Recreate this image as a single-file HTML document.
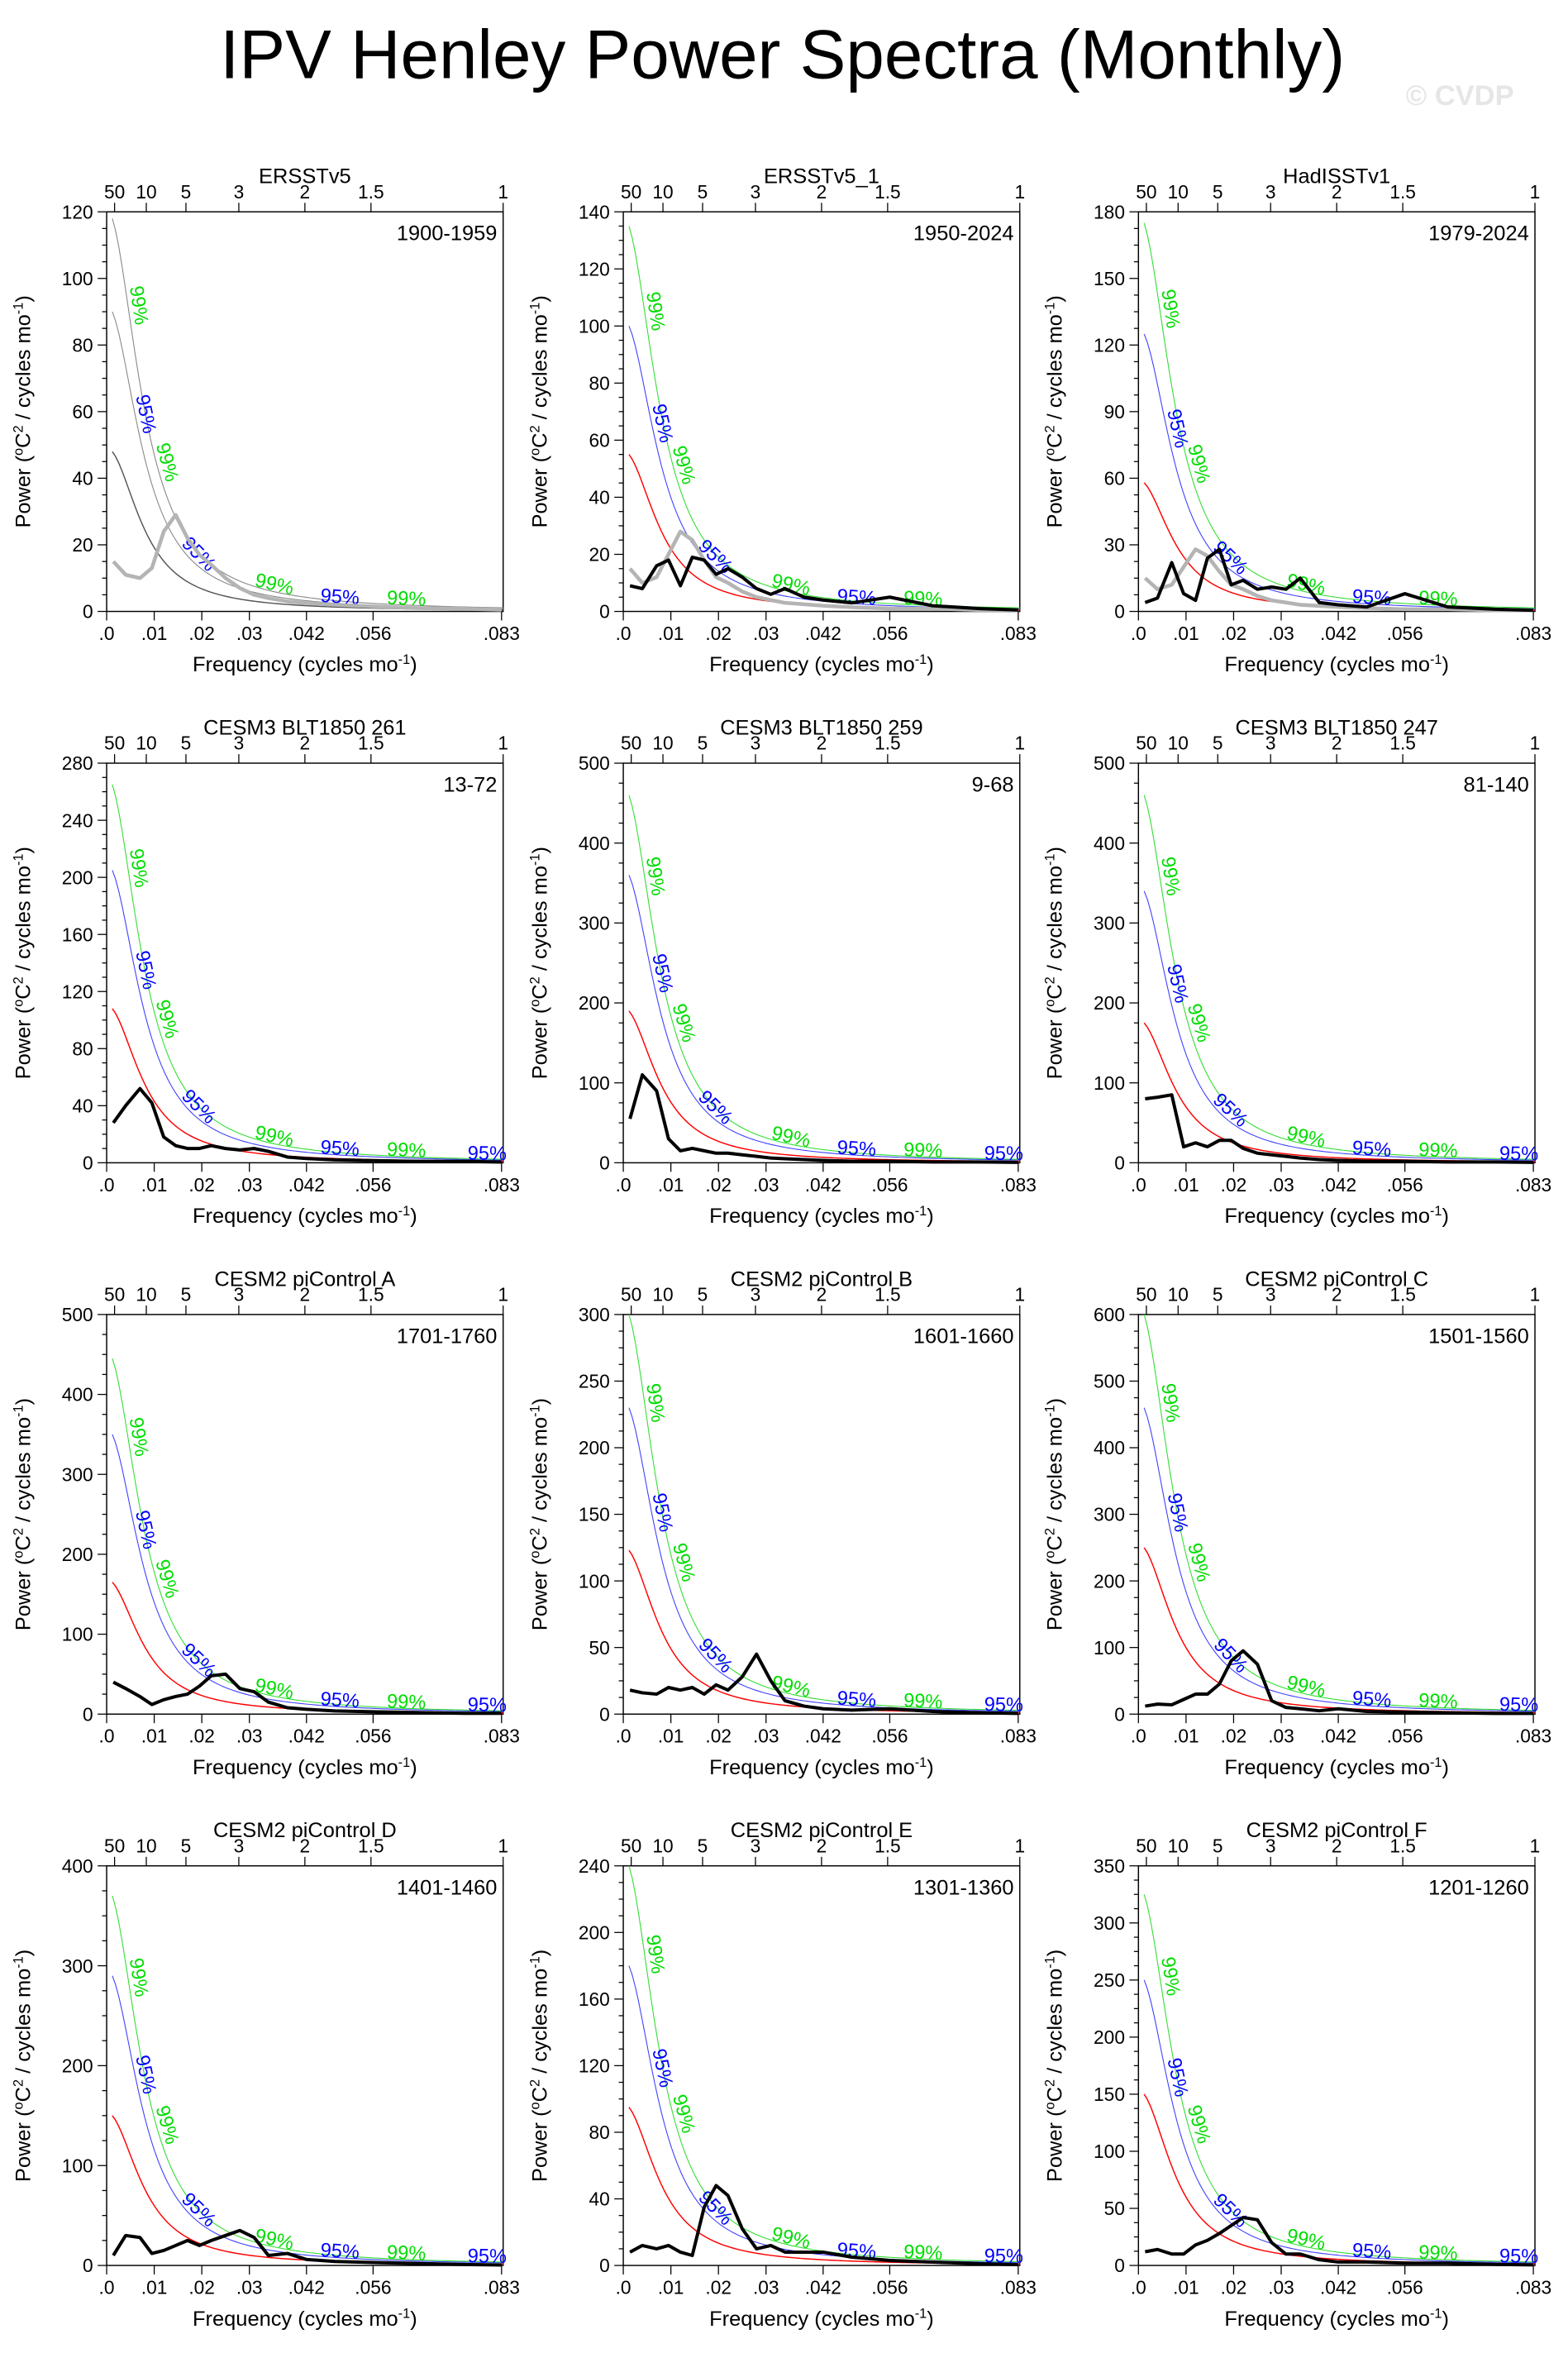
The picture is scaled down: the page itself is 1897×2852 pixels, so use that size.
<!DOCTYPE html>
<html><head><meta charset="utf-8"><style>
html,body{margin:0;padding:0;background:#fff;}
svg{display:block;font-family:"Liberation Sans",Arial,sans-serif;}
</style></head><body>
<svg id="fig" width="1897" height="2852" viewBox="0 0 1044 1569.6" xmlns="http://www.w3.org/2000/svg">
<text x="521" y="52" text-anchor="middle" font-size="46">IPV Henley Power Spectra (Monthly)</text>
<text x="972" y="70" text-anchor="middle" font-size="19" font-weight="bold" fill="#e6e6e6">© CVDP</text>
</svg>
<script>
// shared frequency grid (cycles/mo)
const freqs = [0.0014,0.004,0.007,0.0095,0.012,0.0145,0.017,0.0195,0.022,0.025,0.028,0.031,0.034,0.038,0.042,0.048,0.056,0.065,0.075,0.083];
const panelTitles = ["ERSSTv5","ERSSTv5_1","HadISSTv1","CESM3 BLT1850 261","CESM3 BLT1850 259","CESM3 BLT1850 247","CESM2 piControl A","CESM2 piControl B","CESM2 piControl C","CESM2 piControl D","CESM2 piControl E","CESM2 piControl F"];
const panelYears = ["1900-1959","1950-2024","1979-2024","13-72","9-68","81-140","1701-1760","1601-1660","1501-1560","1401-1460","1301-1360","1201-1260"];
const yMax = [120,140,180,280,500,500,500,300,600,400,240,350];
const yStep = [20,20,30,40,100,100,100,50,100,100,40,50];
const redStart = [48,55,58,108,190,175,165,123,250,150,95,150];
const blueStart = [90,100,125,205,360,340,350,230,460,290,180,250];
const greenStart = [118,135,175,265,460,460,445,300,600,370,240,325];
const blackSeries = [
 null,
 [9,8,16,18,9,19,18,13,15,12,8,6,8,5,4,3,5,2,1,0.5],
 [4,6,22,8,5,24,28,12,14,10,11,10,15,4,3,2,8,2,1,0.5],
 [28,40,52,42,18,12,10,10,12,10,9,10,8,4,3,2,1.5,1,1,0.5],
 [55,110,90,30,15,18,15,12,12,10,8,6,5,4,3,2,2,1,1,0.5],
 [80,82,85,20,25,20,28,28,18,12,10,8,6,4,3,2,2,1,1,0.5],
 [40,32,22,12,18,22,25,35,48,50,32,28,15,8,6,4,3,2,1,1],
 [18,16,15,20,18,20,15,22,18,28,45,25,10,6,4,3,4,2,1,0.5],
 [12,15,14,22,30,30,45,80,95,75,20,10,8,5,8,4,3,2,1,1],
 [10,30,28,12,15,20,25,20,25,30,35,28,10,12,6,4,3,2,1,0.5],
 [8,12,10,12,8,6,35,48,42,22,10,12,8,8,8,5,3,2,1,0.5],
 [12,14,10,10,18,22,28,35,42,40,20,10,10,5,3,3,2,2,1,0.5]
];
const graySeries = [
 [15,11,10,13,24,29,22,17,14,10,7,5,4,3,2.5,2,1.5,1,0.8,0.5],
 [15,10,12,20,28,25,18,12,10,7,5,4,3,2.5,2,1.5,1,1,0.5,0.5],
 [15,10,12,20,28,25,18,12,10,7,5,4,3,2.5,2,1.5,1,1,0.5,0.5],
 null,null,null,null,null,null,null,null,null
];
const bottomTicks = [0,0.01,0.02,0.03,0.042,0.056,0.083];
const bottomLabels = [".0",".01",".02",".03",".042",".056",".083"];
const topPeriods = [50,10,5,3,2,1.5,1];
const fMax = 1/12, fc = 0.008;

const NS="http://www.w3.org/2000/svg";
const svg=document.getElementById('fig');
function mk(tag,attrs,parent){const e=document.createElementNS(NS,tag);for(const k in attrs)e.setAttribute(k,attrs[k]);(parent||svg).appendChild(e);return e;}
const colX=[71,415,758], rowY=[141,508,875,1242], W=264, H=266;

for(let p=0;p<12;p++){
  const x0=colX[p%3], y0=rowY[Math.floor(p/3)], yb=y0+H;
  const g=mk('g',{});
  
  
  const X=f=>x0+f/fMax*W;
  const Y=v=>yb-Math.min(v,yMax[p])/yMax[p]*H;
  // title
  const t=mk('text',{x:x0+W/2,y:y0-19,'text-anchor':'middle','font-size':14},g);t.textContent=panelTitles[p];
  
  const yr=mk('text',{x:x0+W-4,y:y0+19,'text-anchor':'end','font-size':14},g);yr.textContent=panelYears[p];
  
  // frame
  const fr=mk('rect',{x:x0,y:y0,width:W,height:H,fill:'none',stroke:'#000','stroke-width':0.8},g);
  
  // y ticks
  for(let v=0;v<=yMax[p]+1e-9;v+=yStep[p]/4){
    const major=Math.abs(v/yStep[p]-Math.round(v/yStep[p]))<1e-6;
    mk('line',{x1:x0,x2:x0-(major?6:3),y1:Y(v),y2:Y(v),stroke:'#000','stroke-width':0.7},g);
    if(major){const l=mk('text',{x:x0-9,y:Y(v)+4.5,'text-anchor':'end','font-size':12.5},g);l.textContent=v;
      }
  }
  // bottom ticks
  bottomTicks.forEach((f,i)=>{
    mk('line',{x1:X(f),x2:X(f),y1:yb,y2:yb+6,stroke:'#000','stroke-width':0.7},g);
    const l=mk('text',{x:X(f),y:yb+19,'text-anchor':'middle','font-size':12.5},g);l.textContent=bottomLabels[i];
    
  });
  topPeriods.forEach(per=>{
    const f=1/(12*per);
    mk('line',{x1:X(f),x2:X(f),y1:y0,y2:y0-6,stroke:'#000','stroke-width':0.7},g);
    const l=mk('text',{x:X(f),y:y0-9,'text-anchor':'middle','font-size':12.5},g);l.textContent=per;
    
  });
  // axis titles
  const xt=mk('text',{x:x0+W/2,y:yb+40,'text-anchor':'middle','font-size':14},g);
  xt.innerHTML='Frequency (cycles mo<tspan dy="-5" font-size="9">-1</tspan><tspan dy="5">)</tspan>';
  
  const yt=mk('text',{x:0,y:0,'text-anchor':'middle','font-size':14,transform:`translate(${x0-51},${y0+H/2}) rotate(-90)`},g);
  yt.innerHTML='Power (<tspan dy="-5" font-size="9">o</tspan><tspan dy="5">C</tspan><tspan dy="-5" font-size="9">2</tspan><tspan dy="5"> / cycles mo</tspan><tspan dy="-5" font-size="9">-1</tspan><tspan dy="5">)</tspan>';
  
  // red noise & significance curves
  const curve=(s0,col,w,name)=>{
    let d='';
    for(let i=0;i<=120;i++){const f=0.0012+(fMax-0.0012)*i/120;const v=s0*(fc*fc+0.0012*0.0012)/(f*f+fc*fc);d+=(i?'L':'M')+X(f).toFixed(2)+','+Y(v).toFixed(2);}
    const e=mk('path',{d:d,fill:'none',stroke:col,'stroke-width':w},g);
    
  };
  const obs0=(p===0);
  curve(redStart[p],obs0?'#555':'#ff0000',0.8,'red-noise-curve');
  curve(blueStart[p],obs0?'#888':'#4040ff',0.6,'ci-95-curve');
  curve(greenStart[p],obs0?'#888':'#33dd33',0.6,'ci-99-curve');
  // labels along curves
  const lab=(s0,f,txt,col)=>{
    const v=s0*(fc*fc+0.0012*0.0012)/(f*f+fc*fc);
    const df=0.0005, v2=s0*(fc*fc+0.0012*0.0012)/((f+df)*(f+df)+fc*fc);
    const ang=Math.atan2(Y(v2)-Y(v),X(f+df)-X(f))*180/Math.PI;
    const l=mk('text',{x:0,y:0,'text-anchor':'middle','font-size':13,fill:col,transform:`translate(${X(f)+3},${Y(v)}) rotate(${ang.toFixed(1)})`},g);
    l.textContent=txt;
    
  };
  lab(greenStart[p],0.0045,'99%','#00dd00');
  lab(blueStart[p],0.006,'95%','#0000ff');
  lab(greenStart[p],0.0105,'99%','#00dd00');
  lab(blueStart[p],0.0175,'95%','#0000ff');
  lab(greenStart[p],0.034,'99%','#00dd00');
  lab(blueStart[p],0.048,'95%','#0000ff');
  lab(greenStart[p],0.062,'99%','#00dd00');
  if(p>=3) lab(blueStart[p],0.079,'95%','#0000ff');
  // spectra
  const line=(arr,col,w,name)=>{
    const d=arr.map((v,i)=>(i?'L':'M')+X(freqs[i]).toFixed(2)+','+Y(v).toFixed(2)).join('');
    const e=mk('path',{d:d,fill:'none',stroke:col,'stroke-width':w,'stroke-linejoin':'round'},g);
    
  };
  if(graySeries[p]) line(graySeries[p],'#b4b4b4',2.5,'obs-spectrum-gray');
  if(blackSeries[p]) line(blackSeries[p],'#000',2.2,'spectrum-line');
}
</script>
</body></html>
